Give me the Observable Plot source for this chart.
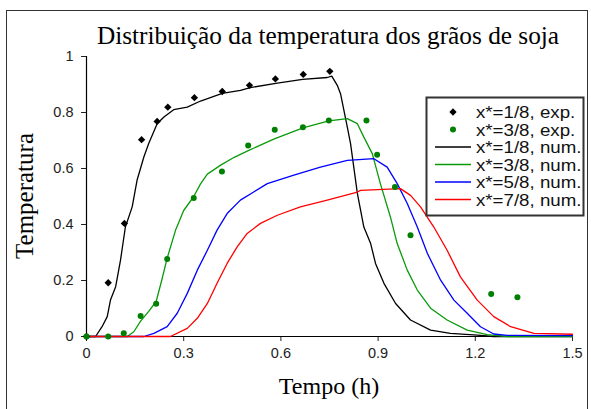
<!DOCTYPE html>
<html>
<head>
<meta charset="utf-8">
<script src="https://cdn.jsdelivr.net/npm/d3@7"></script>
<script src="https://cdn.jsdelivr.net/npm/@observablehq/plot@0.6"></script>
<style>
  html, body { margin: 0; padding: 0; background: white; }
  #wrap { position: relative; width: 591px; height: 409px; overflow: hidden; }
  #border { position: absolute; left: 6px; top: 10px; width: 582px; height: 420px; border: 1.5px solid #333; box-sizing: border-box; pointer-events: none; }
</style>
</head>
<body>
<div id="wrap"><div id="border"></div></div>
<script>
// ---- data ----
const chartTitle = "Distribuição da temperatura dos grãos de soja";
const xTitle = "Tempo (h)";
const yTitle = "Temperatura";

const xTicks = [0, 0.3, 0.6, 0.9, 1.2, 1.5];
const xTickLabels = ["0", "0.3", "0.6", "0.9", "1.2", "1.5"];
const yTicks = [0, 0.2, 0.4, 0.6, 0.8, 1];
const yTickLabels = ["0", "0.2", "0.4", "0.6", "0.8", "1"];

const legendLabels = ["x*=1/8, exp.", "x*=3/8, exp.", "x*=1/8, num.", "x*=3/8, num.", "x*=5/8, num.", "x*=7/8, num."];
const seriesColors = ["#000000", "#008000", "#000000", "#0a9a0a", "#0000ff", "#ff0000"];

// experimental points
const exp1T = [0, 0.067, 0.117, 0.170, 0.218, 0.251, 0.333, 0.419, 0.503, 0.583, 0.669, 0.751];
const exp1V = [0, 0.192, 0.404, 0.703, 0.768, 0.819, 0.853, 0.875, 0.897, 0.920, 0.936, 0.947];

const exp3T = [0, 0.067, 0.115, 0.167, 0.215, 0.249, 0.331, 0.418, 0.499, 0.581, 0.668, 0.748, 0.864, 0.897, 0.952, 1.0, 1.249, 1.330];
const exp3V = [0, 0, 0.012, 0.073, 0.117, 0.277, 0.495, 0.589, 0.682, 0.738, 0.747, 0.771, 0.771, 0.649, 0.534, 0.362, 0.152, 0.140];

// numerical curves
const num1T = [0, 0.028, 0.048, 0.064, 0.074, 0.090, 0.105, 0.120, 0.141, 0.156, 0.177, 0.192, 0.218, 0.239, 0.269, 0.311, 0.352, 0.419, 0.475, 0.506, 0.589, 0.667, 0.743, 0.757, 0.774, 0.784, 0.805, 0.815, 0.836, 0.856, 0.877, 0.892, 0.918, 0.954, 1.0, 1.062, 1.123, 1.206, 1.256, 1.5];
const num1V = [0, 0, 0.035, 0.071, 0.130, 0.178, 0.273, 0.391, 0.463, 0.558, 0.641, 0.689, 0.760, 0.784, 0.810, 0.819, 0.841, 0.868, 0.879, 0.889, 0.905, 0.918, 0.925, 0.930, 0.897, 0.867, 0.748, 0.689, 0.511, 0.391, 0.332, 0.261, 0.190, 0.118, 0.059, 0.023, 0.011, 0.005, 0, 0];

const num3T = [0, 0.126, 0.146, 0.167, 0.192, 0.215, 0.232, 0.249, 0.275, 0.300, 0.331, 0.352, 0.373, 0.414, 0.456, 0.496, 0.578, 0.668, 0.748, 0.805, 0.836, 0.856, 0.882, 0.907, 0.938, 0.959, 0.990, 1.021, 1.062, 1.113, 1.175, 1.237, 1.298, 1.5];
const num3V = [0, 0, 0.017, 0.055, 0.090, 0.125, 0.200, 0.280, 0.380, 0.450, 0.500, 0.545, 0.580, 0.612, 0.640, 0.662, 0.705, 0.745, 0.770, 0.778, 0.760, 0.712, 0.653, 0.546, 0.427, 0.332, 0.237, 0.166, 0.101, 0.059, 0.023, 0.007, 0, 0];

const num5T = [0, 0.177, 0.208, 0.249, 0.280, 0.311, 0.342, 0.373, 0.403, 0.434, 0.475, 0.516, 0.558, 0.640, 0.722, 0.805, 0.887, 0.928, 0.959, 0.990, 1.021, 1.052, 1.093, 1.134, 1.175, 1.216, 1.257, 1.298, 1.5];
const num5V = [0, 0, 0.011, 0.035, 0.083, 0.154, 0.237, 0.308, 0.380, 0.439, 0.487, 0.516, 0.546, 0.576, 0.605, 0.629, 0.635, 0.605, 0.546, 0.475, 0.391, 0.297, 0.201, 0.130, 0.083, 0.035, 0.009, 0.004, 0.003];

const num7T = [0, 0.259, 0.311, 0.342, 0.373, 0.403, 0.434, 0.465, 0.496, 0.537, 0.589, 0.660, 0.743, 0.836, 0.846, 0.969, 1.0, 1.031, 1.072, 1.113, 1.154, 1.206, 1.257, 1.309, 1.381, 1.5];
const num7V = [0, 0, 0.029, 0.065, 0.118, 0.190, 0.261, 0.320, 0.368, 0.404, 0.433, 0.463, 0.487, 0.516, 0.522, 0.528, 0.504, 0.463, 0.391, 0.308, 0.213, 0.130, 0.071, 0.035, 0.011, 0.008];

// ---- chart ----
const lw = 1.3;
const chart = Plot.plot({
  width: 591,
  height: 409,
  marginLeft: 86,
  marginRight: 19,
  marginTop: 56,
  marginBottom: 73,
  style: { fontFamily: "'Liberation Sans', Arial, sans-serif", fontSize: "14.5px", color: "#222", background: "transparent" },
  x: { domain: [0, 1.5], ticks: xTicks, tickFormat: d => xTickLabels[xTicks.indexOf(d)], tickSize: 5, tickPadding: 6, label: null },
  y: { domain: [0, 1], ticks: yTicks, tickFormat: d => yTickLabels[yTicks.indexOf(d)], tickSize: 5, tickPadding: 8, label: null },
  marks: [
    Plot.ruleY([0], { stroke: "#000", strokeWidth: 1.2 }),
    Plot.ruleX([0], { y1: 0, y2: 1, stroke: "#000", strokeWidth: 1.2 }),
    Plot.line(num1V, { x: num1T, y: num1V, stroke: seriesColors[2], strokeWidth: lw }),
    Plot.line(num3V, { x: num3T, y: num3V, stroke: seriesColors[3], strokeWidth: lw }),
    Plot.line(num5V, { x: num5T, y: num5V, stroke: seriesColors[4], strokeWidth: lw }),
    Plot.line(num7V, { x: num7T, y: num7V, stroke: seriesColors[5], strokeWidth: lw }),
    Plot.dot(exp1V, { x: exp1T, y: exp1V, symbol: "diamond2", r: 3.3, fill: seriesColors[0], stroke: "none" }),
    Plot.dot(exp3V, { x: exp3T, y: exp3V, symbol: "circle", r: 3, fill: seriesColors[1], stroke: "none" })
  ]
});
document.getElementById("wrap").insertBefore(chart, document.getElementById("border"));

const svg = d3.select(chart);
const serif = "'Liberation Serif', 'Times New Roman', serif";
// title
svg.append("text").attr("x", 328).attr("y", 44).attr("text-anchor", "middle")
  .attr("font-family", serif).attr("font-size", 25.3).attr("fill", "#000").text(chartTitle);
// x title
svg.append("text").attr("x", 329).attr("y", 394).attr("text-anchor", "middle")
  .attr("font-family", serif).attr("font-size", 24).attr("fill", "#000").text(xTitle);
// y title
svg.append("text").attr("transform", "translate(33,196) rotate(-90)").attr("text-anchor", "middle")
  .attr("font-family", serif).attr("font-size", 25).attr("fill", "#000").text(yTitle);

// legend
const lg = svg.append("g");
lg.append("rect").attr("x", 426.5).attr("y", 97.5).attr("width", 157).attr("height", 118)
  .attr("fill", "white").attr("stroke", "#333").attr("stroke-width", 2);
legendLabels.forEach((lab, i) => {
  const cy = 112 + i * 17.5;
  if (i === 0) {
    lg.append("path").attr("d", d3.symbol(d3.symbolDiamond2, 34)()).attr("transform", `translate(453,${cy})`).attr("fill", seriesColors[0]);
  } else if (i === 1) {
    lg.append("circle").attr("cx", 453).attr("cy", cy).attr("r", 3).attr("fill", seriesColors[1]);
  } else {
    lg.append("line").attr("x1", 435).attr("x2", 471).attr("y1", cy).attr("y2", cy)
      .attr("stroke", seriesColors[i]).attr("stroke-width", 1.5);
  }
  lg.append("text").attr("transform", `translate(476,${cy}) scale(1.1,1)`).attr("dy", "0.36em")
    .attr("text-anchor", "start")
    .attr("font-family", "'Liberation Sans', Arial, sans-serif").attr("font-size", 17).attr("fill", "#111").text(lab);
});
</script>
</body>
</html>
